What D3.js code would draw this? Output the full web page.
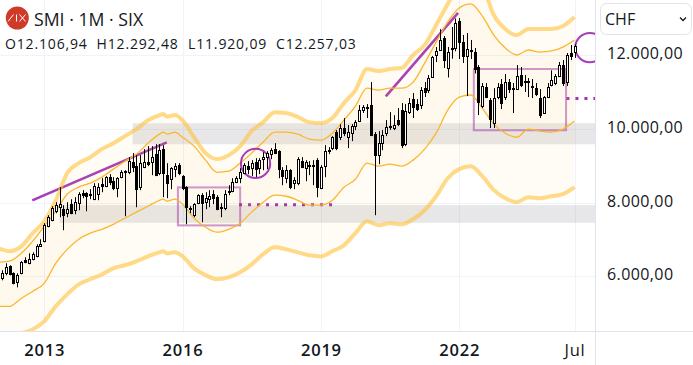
<!DOCTYPE html>
<html>
<head>
<meta charset="utf-8">
<script src="https://cdn.jsdelivr.net/npm/d3@7"></script>
<style>
	html, body { margin: 0; padding: 0; background: #fff; overflow: hidden; }
	text { font-family: "Open Sans", "Noto Sans", sans-serif; fill: #131722; }
</style>
</head>
<body>
<div id="chart"></div>
<script>
// months are counted from Jan 2012 (0), first candle is Feb 2012
var months = d3.range(1, 151);

var opens = [5945,6081,6271,6081,5837,6081,6434,6353,6461,6543,6814,6950,7357,7520,7764,7873,7819,7710,7954,7791,
	7982,8253,8253,8200,8090,8226,8497,8443,8687,8579,8389,8687,8823,8823,9095,8986,8416,8959,9095,9095,
	9312,8796,9447,8742,8633,8905,9013,8715,8416,7860,7656,7982,8199,8009,8090,8226,8145,7890,7846,8295,
	8307,8552,8660,8796,8986,8932,9095,8932,9176,9230,9312,9447,9393,8878,8660,8878,8525,8525,9122,8932,
	9013,8986,9149,8389,8986,9400,9475,9909,9773,10017,9773,9882,10072,10208,10507,10588,10643,9855,9285,9611,
	9882,10045,10018,10235,10507,9583,10452,10805,10670,10643,11104,11050,11402,12000,12136,12461,11647,12170,12190,12923,
	12353,11973,12136,12081,11674,10615,11131,10778,10153,10860,11212,10860,11267,11104,11077,11457,11290,11290,11165,11104,
	10832,10425,10860,11185,11240,11430,11728,11267,12054,12106.94];
var highs = [6163,6353,6298,6108,6081,6410,6515,6624,6651,6868,7004,7440,7655,7900,8009,8416,7927,8009,8090,8144,
	8280,8335,8280,8362,8525,8525,8660,8714,8769,8687,8687,8877,8877,9230,9339,9285,9285,9447,9529,9529,
	9583,9583,9556,9068,8959,9068,9068,8742,8443,7900,7982,8226,8253,8280,8335,8335,8199,7982,8335,8470,
	8660,8714,8932,9068,9122,9149,9203,9203,9366,9393,9475,9610,9420,8959,9013,8905,8687,9230,9230,9149,
	9122,9149,9203,9013,9556,9502,9800,9963,10125,10290,10100,10126,10235,10643,10643,10670,11267,9909,9936,9963,
	10235,10450,10370,10560,10697,10670,10832,10968,10805,11131,11267,11457,11972,12217,12700,12515,12217,12760,12990,13000,
	12543,12597,12407,12190,11728,11240,11240,10832,11100,11240,11349,11484,11349,11240,11728,11674,11457,11375,11349,11240,
	11077,10886,11240,11585,11484,11810,11864,12054,12271,12292.48];
var lows = [5891,6027,6027,5783,5701,6054,6353,6326,6434,6515,6814,6922,7330,7493,7710,7601,7249,7601,7683,7683,
	7791,8117,7764,8090,8063,8063,8280,8416,8470,8335,8145,8660,7629,8769,8823,7873,8335,8932,8986,8742,
	8715,8742,8145,8117,8362,8687,8742,8335,7412,7710,7601,7955,7466,7819,7873,7954,7792,7601,7792,8199,
	8280,8525,8525,8769,8769,8715,8688,8769,8877,8905,9176,9312,8660,8470,8525,8362,8362,8470,8932,8578,
	8742,8470,8145,8362,8687,9312,9420,9420,9692,9800,9475,9665,9963,10181,10426,10290,9800,7656,9040,9420,
	9800,9970,9963,10072,9475,9529,10400,10290,10480,10534,10861,10968,11375,11810,12108,11647,11390,11900,12100,11891,
	11783,10886,11891,11500,10371,10560,10832,10018,10018,10800,10534,10778,10968,10425,11050,11131,10995,10860,10832,10886,
	10290,10400,10832,11150,11185,11400,11158,11158,11864,11920.09];
var closes = [6081,6244,6054,5810,6027,6380,6380,6461,6597,6814,6868,7384,7601,7846,7927,7954,7656,7819,7710,8009,
	8226,8199,8172,8226,8443,8416,8443,8687,8552,8389,8660,8823,8850,9122,8959,8362,9068,9095,9041,9230,
	8742,9420,8796,8525,8932,8986,8796,8389,7873,7840,7954,8199,7982,8117,8172,8117,7819,7870,8226,8307,
	8552,8660,8823,9013,8905,9068,8905,9149,9230,9339,9420,9339,8905,8714,8878,8416,8606,9176,8959,9095,
	8999,9013,8416,8959,9393,9420,9773,9475,10017,9882,9909,10072,10181,10507,10588,10560,9828,9285,9611,9828,
	10045,10070,10100,10126,9556,10480,10697,10588,10534,11050,10995,11375,11945,12108,12407,11864,12081,12200,12868,12353,
	11973,12163,12110,11620,10724,11158,10860,10262,10832,11131,10697,11267,11077,11077,11430,11186,11300,11280,11150,10941,
	10371,10860,11131,11321,11430,11728,11240,12000,11973,12257.03];

// envelope read off the picture, not every month
var bandMonths = [0,3,6,9,12,15,18,21,24,27,30,33,36,39,42,43,44,46,48,51,54,57,60,63,66,69,72,75,78,81,84,87,90,93,96,99,102,105,108,111,114,117,120,123,126,129,132,135,138,141,144,147,150];
var outerUpper = [6760,6680,6810,7170,7490,8060,8800,9070,9230,9450,9610,9800,9990,10230,10370,10400,10330,10370,10230,9770,9340,9180,9285,9530,9940,10180,10450,10425,10320,10180,10155,10290,10700,11050,11620,11565,11620,11650,12000,12275,12815,13385,13900,14170,13900,13085,12705,12540,12705,12705,12705,12785,13030];
var innerUpper = [6380,6410,6620,6950,7360,7760,8230,8420,8525,8690,8905,9120,9310,9610,9855,9910,9855,9910,9770,9530,9150,8820,8850,9070,9340,9640,9910,9910,9855,9720,9690,9880,10235,10615,11100,11050,11100,11100,11265,11780,12350,12895,13275,13385,13060,12540,12190,12000,12135,12080,12110,12215,12405];
var innerLower = [5185,5185,5400,5590,5810,6350,6730,7005,7170,7275,7410,7575,7740,7900,8060,8090,8035,8090,7955,7575,7330,7195,7275,7440,7740,8010,8200,8170,8060,7930,7930,8060,8415,8630,9070,8985,9040,8985,9150,9450,9880,10505,10860,10915,10560,10125,9880,9770,9990,9935,9910,9990,10210];
var outerLower = [4130,4260,4450,4560,4780,5185,5510,5780,5920,6050,6215,6300,6405,6540,6650,6680,6620,6650,6540,6215,6030,5920,5970,6110,6325,6600,6785,6730,6650,6570,6540,6680,6840,7170,7490,7385,7440,7410,7545,7790,8170,8660,8905,8985,8715,8335,8115,8010,8145,8115,8170,8225,8415];

// gray zones and drawings on the chart, [month, value]
var zones = [
	{ from: 35, top: 10150, bottom: 9580 },
	{ from: 16, top: 7930, bottom: 7450 }
];
var trendLines = [
	[[8.9, 8060], [43.9, 9630]],
	[[100.9, 10880], [119.7, 13140]]
];
var boxes = [
	[46.8, 8410, 63, 7380],
	[123.8, 11620, 147.8, 9960]
];
var circles = [[67, 9060], [154, 12200]];
var dotted = [[62.7, 7940, 87.2], [147.9, 10820, 160]];

var priceTicks = [6000, 8000, 10000, 12000];
var timeTicks = [12, 48, 84, 120, 150];
var timeLabels = ["2013", "2016", "2019", "2022", "Jul"];
var legendTitle = "SMI · 1M · SIX";
var ohlcLabels = ["O", "H", "L", "C"];
var ohlcValues = [12106.94, 12292.48, 11920.09, 12257.03];

var width = 693, height = 365, plotRight = 595, plotBottom = 331.5;

var x = d3.scaleLinear().domain([12, 150]).range([44.2, 574.5]);
var y = d3.scaleLinear().domain([6000, 12000]).range([276.3, 55]);

var fmt = d3.formatLocale({ decimal: ",", thousands: ".", grouping: [3], currency: ["", ""] }).format(",.2f");

var svg = d3.select("#chart").append("svg").attr("width", width).attr("height", height).style("display", "block");
var defs = svg.append("defs");
defs.append("clipPath").attr("id", "plot-clip").append("rect").attr("width", plotRight).attr("height", plotBottom);

// grid
var grid = svg.append("g");
grid.selectAll(".h").data(priceTicks).enter().append("line")
	.attr("x1", 0).attr("x2", plotRight)
	.attr("y1", function (d) { return Math.round(y(d)) + 0.5; })
	.attr("y2", function (d) { return Math.round(y(d)) + 0.5; })
	.attr("stroke", "#f0f3fa");
grid.selectAll(".v").data(timeTicks).enter().append("line")
	.attr("y1", 0).attr("y2", plotBottom)
	.attr("x1", function (d) { return Math.round(x(d)) + 0.5; })
	.attr("x2", function (d) { return Math.round(x(d)) + 0.5; })
	.attr("stroke", "#f0f3fa");

var plot = svg.append("g").attr("clip-path", "url(#plot-clip)");

// zones
plot.selectAll(".zone").data(zones).enter().append("rect")
	.attr("x", function (d) { return x(d.from); })
	.attr("y", function (d) { return y(d.top); })
	.attr("width", function (d) { return plotRight - x(d.from); })
	.attr("height", function (d) { return y(d.bottom) - y(d.top); })
	.attr("fill", "rgba(120,123,134,0.18)");

// drawings
var purple = "#9c27b0";
plot.selectAll(".trend").data(trendLines).enter().append("line")
	.attr("x1", function (d) { return x(d[0][0]); })
	.attr("y1", function (d) { return y(d[0][1]); })
	.attr("x2", function (d) { return x(d[1][0]); })
	.attr("y2", function (d) { return y(d[1][1]); })
	.attr("stroke", purple).attr("stroke-width", 2.6).attr("stroke-opacity", 0.9);
plot.selectAll(".box").data(boxes).enter().append("rect")
	.attr("x", function (d) { return x(d[0]); })
	.attr("y", function (d) { return y(d[1]); })
	.attr("width", function (d) { return x(d[2]) - x(d[0]); })
	.attr("height", function (d) { return y(d[3]) - y(d[1]); })
	.attr("fill", "none").attr("stroke", purple).attr("stroke-opacity", 0.5).attr("stroke-width", 2);
plot.selectAll(".dots").data(dotted).enter().append("line")
	.attr("x1", function (d) { return x(d[0]); })
	.attr("x2", function (d) { return x(d[2]); })
	.attr("y1", function (d) { return y(d[1]); })
	.attr("y2", function (d) { return y(d[1]); })
	.attr("stroke", purple).attr("stroke-width", 3).attr("stroke-dasharray", "3 6").attr("stroke-opacity", 0.95);

// envelope fills and lines
var area = d3.area().curve(d3.curveMonotoneX).x(function (d) { return x(d.m); })
	.y0(function (d) { return y(d.a); }).y1(function (d) { return y(d.b); });
var line = d3.line().curve(d3.curveMonotoneX).x(function (d, i) { return x(bandMonths[i]); }).y(function (d) { return y(d); });

function zipBand(a, b) {
	return bandMonths.map(function (m, i) { return { m: m, a: a[i], b: b[i] }; });
}
plot.append("path").attr("d", area(zipBand(outerLower, outerUpper))).attr("fill", "rgba(255,193,59,0.05)");
plot.append("path").attr("d", area(zipBand(innerLower, innerUpper))).attr("fill", "rgba(255,193,59,0.045)");

[outerUpper, outerLower].forEach(function (s) {
	plot.append("path").attr("d", line(s)).attr("fill", "none")
		.attr("stroke", "#ffc13b").attr("stroke-opacity", 0.6).attr("stroke-width", 4);
});
[innerUpper, innerLower].forEach(function (s) {
	plot.append("path").attr("d", line(s)).attr("fill", "none")
		.attr("stroke", "#fbb62d").attr("stroke-width", 1.3);
});

plot.selectAll(".circle").data(circles).enter().append("circle")
	.attr("cx", function (d) { return x(d[0]); })
	.attr("cy", function (d) { return y(d[1]); })
	.attr("r", 14.6)
	.attr("fill", "none").attr("stroke", purple).attr("stroke-opacity", 0.9).attr("stroke-width", 2);

// candles
var candles = plot.selectAll(".candle").data(months).enter().append("g");
candles.append("line")
	.attr("x1", function (d) { return Math.round(x(d)) + 0.5; })
	.attr("x2", function (d) { return Math.round(x(d)) + 0.5; })
	.attr("y1", function (d, i) { return y(highs[i]); })
	.attr("y2", function (d, i) { return y(lows[i]); })
	.attr("stroke", "#000");
candles.append("rect")
	.attr("x", function (d) { return Math.round(x(d)) - 0.5; })
	.attr("width", 2)
	.attr("y", function (d, i) { return Math.round(y(Math.max(opens[i], closes[i]))) + 0.5; })
	.attr("height", function (d, i) { return Math.max(1, Math.round(Math.abs(y(opens[i]) - y(closes[i])))); })
	.attr("fill", function (d, i) { return closes[i] >= opens[i] ? "#fff" : "#000"; })
	.attr("stroke", "#000");

// axes
svg.append("line").attr("x1", plotRight + 0.5).attr("x2", plotRight + 0.5).attr("y1", 0).attr("y2", height).attr("stroke", "#e0e3eb");
svg.append("line").attr("x1", 0).attr("x2", width).attr("y1", plotBottom).attr("y2", plotBottom).attr("stroke", "#e0e3eb");

var yAxis = d3.axisRight(y).tickValues(priceTicks).tickSize(0).tickPadding(0).tickFormat(fmt);
var yg = svg.append("g").attr("transform", "translate(607,-1.5)").call(yAxis);
yg.select(".domain").remove();
yg.selectAll("text").attr("x", 0).attr("dy", "0.32em").style("font-size", "16px").style("letter-spacing", "0.4px").style("font-family", null);

var xAxis = d3.axisBottom(x).tickValues(timeTicks).tickSize(0).tickPadding(0)
	.tickFormat(function (d, i) { return timeLabels[i]; });
var xg = svg.append("g").attr("transform", "translate(0,351)").call(xAxis);
xg.select(".domain").remove();
xg.selectAll("text").attr("y", 0).attr("dy", "0.32em").style("font-size", "16.5px").style("letter-spacing", "0.8px").style("font-family", null)
	.style("font-weight", function (d, i) { return i < 4 ? 600 : 400; });

// currency button
svg.append("rect").attr("x", 600.5).attr("y", 3.5).attr("width", 91).attr("height", 31).attr("rx", 6)
	.attr("fill", "#fff").attr("stroke", "#e0e3eb");
svg.append("text").attr("x", 605).attr("y", 25).style("font-size", "16px").text("CHF");
svg.append("path").attr("d", "M680 17.5l3 3 3-3").attr("fill", "none").attr("stroke", "#131722").attr("stroke-width", 1.3);

// legend
var logo = svg.append("g");
logo.append("circle").attr("cx", 17.3).attr("cy", 18).attr("r", 11.5).attr("fill", "#cf3a29");
logo.append("path").attr("d", "M8 21.5L13.5 14.5M16.5 14.5V21.5M19.5 14.5L25.5 21.5M25.5 14.5L19.5 21.5")
	.attr("stroke", "#fff").attr("stroke-width", 1).attr("fill", "none");
svg.append("text").attr("x", 34).attr("y", 26).style("font-size", "17.7px").text(legendTitle);

var ohlcX = [5, 96.5, 188, 276];
var ohlc = svg.append("g").selectAll("text").data(ohlcValues).enter().append("text")
	.attr("x", function (d, i) { return ohlcX[i]; })
	.attr("y", 49)
	.style("font-size", "14px").style("letter-spacing", "0.85px")
	.text(function (d, i) { return ohlcLabels[i] + fmt(d); });
</script>
</body>
</html>
